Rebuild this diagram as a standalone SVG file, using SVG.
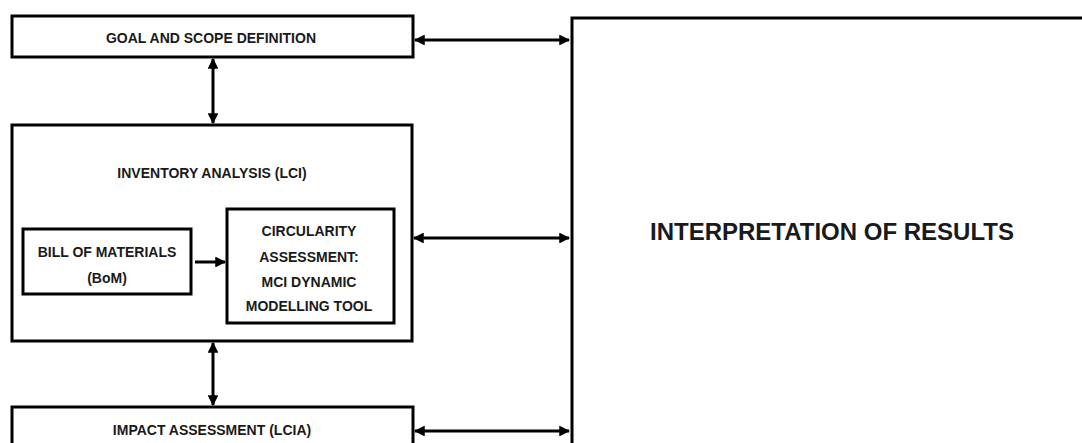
<svg xmlns="http://www.w3.org/2000/svg" width="1082" height="443" viewBox="0 0 1082 443">
<style>
.box{fill:#fff;stroke:#000;stroke-width:3}
.t{font-family:"Liberation Sans",Arial,sans-serif;font-weight:bold;font-size:14px;fill:#1a1a1a;text-anchor:middle}
.big{font-size:24px}
.c{stroke:#000;stroke-width:3;fill:none}
</style>
<defs>
<marker id="ah" viewBox="0 0 10 10" refX="9" refY="5" markerWidth="3.6" markerHeight="3.6" orient="auto-start-reverse" markerUnits="strokeWidth">
<path d="M0,0 L10,5 L0,10 z" fill="#000"/>
</marker>
</defs>
<rect width="1082" height="443" fill="#fff"/>
<g id="interpretation">
<rect class="box" x="572" y="18" width="520" height="440"/>
<text class="t big" x="832" y="240">INTERPRETATION OF RESULTS</text>
</g>
<g id="goal">
<rect class="box" x="12" y="16" width="401" height="41"/>
<text class="t" x="211" y="43">GOAL AND SCOPE DEFINITION</text>
</g>
<g id="inventory">
<rect class="box" x="12" y="125" width="400" height="216"/>
<text class="t" x="212" y="178">INVENTORY ANALYSIS (LCI)</text>
</g>
<g id="bom">
<rect class="box" x="23" y="229" width="168" height="65"/>
<text class="t" x="107" y="257">BILL OF MATERIALS</text>
<text class="t" x="107" y="283">(BoM)</text>
</g>
<g id="circularity">
<rect class="box" x="227" y="209" width="167" height="114"/>
<text class="t" x="309" y="236">CIRCULARITY</text>
<text class="t" x="309" y="262">ASSESSMENT:</text>
<text class="t" x="309" y="287">MCI DYNAMIC</text>
<text class="t" x="309" y="311">MODELLING TOOL</text>
</g>
<g id="impact">
<rect class="box" x="12" y="407" width="401" height="50"/>
<text class="t" x="212" y="435">IMPACT ASSESSMENT (LCIA)</text>
</g>
<g id="connectors">
<line class="c" x1="213" y1="59" x2="213" y2="123" marker-start="url(#ah)" marker-end="url(#ah)"/>
<line class="c" x1="213" y1="343" x2="213" y2="405" marker-start="url(#ah)" marker-end="url(#ah)"/>
<line class="c" x1="195" y1="262" x2="225" y2="262" marker-end="url(#ah)"/>
<line class="c" x1="415" y1="40" x2="569" y2="40" marker-start="url(#ah)" marker-end="url(#ah)"/>
<line class="c" x1="414" y1="238" x2="569" y2="238" marker-start="url(#ah)" marker-end="url(#ah)"/>
<line class="c" x1="415" y1="431" x2="569" y2="431" marker-start="url(#ah)" marker-end="url(#ah)"/>
</g>
</svg>
